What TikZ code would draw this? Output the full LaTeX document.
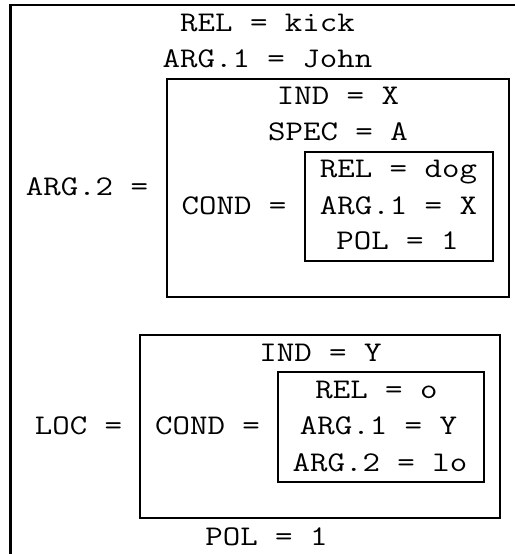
\documentclass[tikz,border=0pt]{standalone}
\usepackage{fontspec}
\setmonofont[FakeStretch=1.19]{Latin Modern Mono}
\begin{document}
\begin{tikzpicture}[x=1bp,y=-1bp,
  lbl/.style={inner sep=0pt, anchor=base, font=\fontsize{28.5bp}{37bp}\selectfont\ttfamily},
  frame/.style={draw=black, line width=2bp},
  outer/.style={draw=black, line width=2.6bp}]
\useasboundingbox (0,0) rectangle (515,554);
% outer structure
\coordinate (otop) at (10.5,5);
\draw[outer] (515,5) -- (otop) -- (10.5,554);
% boxes
\draw[frame] (166.5,79) rectangle (509,297);
\draw[frame] (304.5,152) rectangle (493,261);
\draw[frame] (140,335) rectangle (500,518);
\draw[frame] (278,372) rectangle (484,482);
% texts
\node[lbl] (relkick) at (267.5,31.5) {REL = kick};
\node[lbl] (arg1john) at (267.5,68) {ARG.1 = John};
\node[lbl] (arg2) at (87,196) {ARG.2 =};
\node[lbl] (indx) at (338,105) {IND = X};
\node[lbl] (speca) at (338,140.5) {SPEC = A};
\node[lbl] (cond1) at (234,214.5) {COND =};
\node[lbl] (reldog) at (398.5,178) {REL = dog};
\node[lbl] (arg1x) at (398.5,214.5) {ARG.1 = X};
\node[lbl] (pol1a) at (397.5,249.5) {POL = 1};
\node[lbl] (loc) at (78.5,434.5) {LOC =};
\node[lbl] (indy) at (320.5,361) {IND = Y};
\node[lbl] (cond2) at (207.5,434.5) {COND =};
\node[lbl] (relo) at (376.5,398) {REL = o};
\node[lbl] (arg1y) at (378.5,434.5) {ARG.1 = Y};
\node[lbl] (arg2lo) at (380,471.5) {ARG.2 = lo};
\node[lbl] (pol1b) at (266.5,545) {POL = 1};
\end{tikzpicture}
\end{document}
